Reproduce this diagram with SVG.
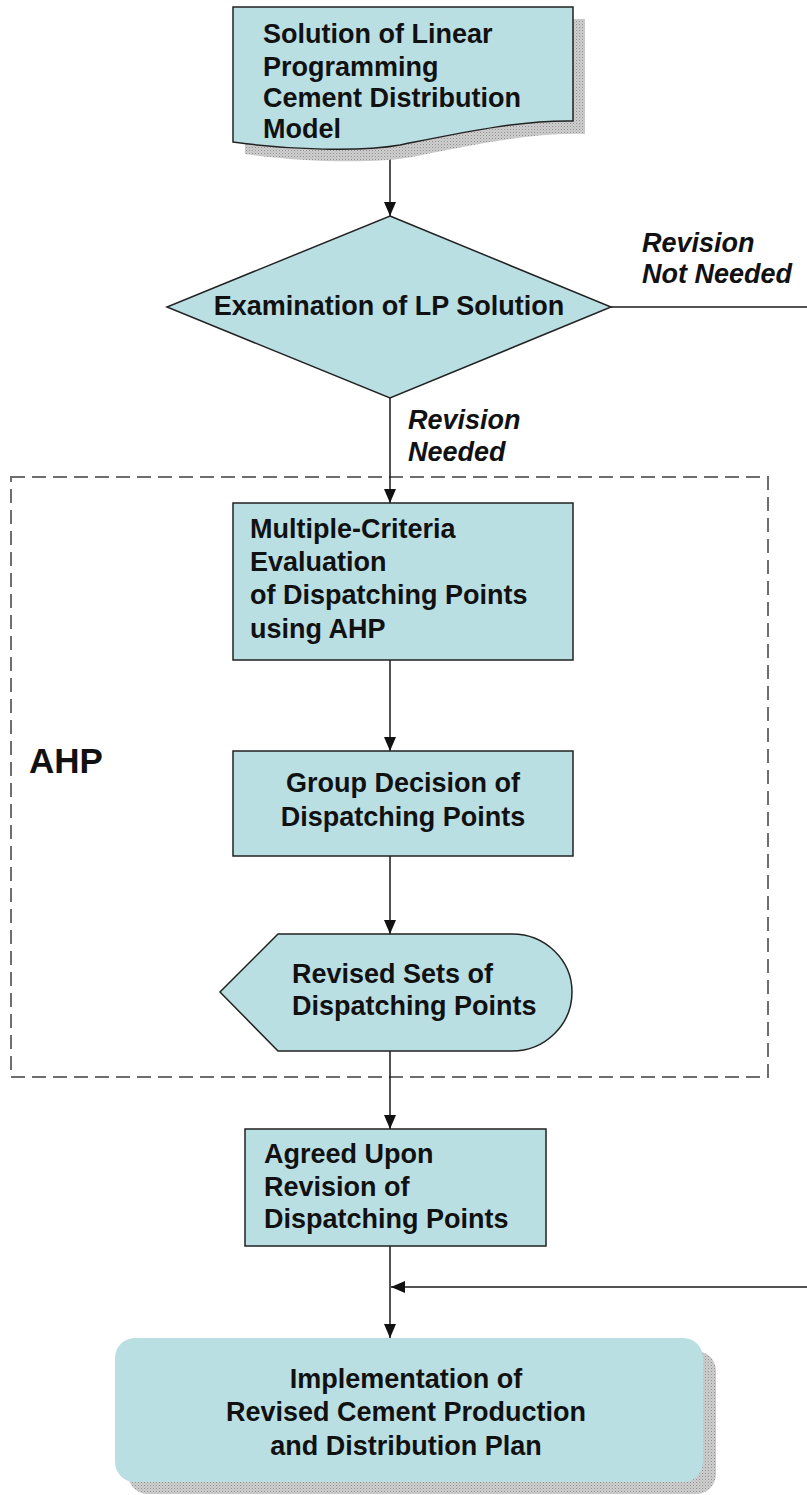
<svg xmlns="http://www.w3.org/2000/svg" width="807" height="1495" viewBox="0 0 807 1495">
<style>
.shape{fill:#badfe3;stroke:#222;stroke-width:1.5}
.noborder{fill:#badfe3;stroke:none}
.shadow{fill:url(#dots);stroke:none}
.t{font-family:"Liberation Sans",Arial,sans-serif;font-weight:bold;font-size:27px;fill:#111}
.lbl{font-family:"Liberation Sans",Arial,sans-serif;font-weight:bold;font-style:italic;font-size:27px;fill:#111}
.conn{fill:none;stroke:#1a1a1a;stroke-width:1.5}
.dash{fill:none;stroke:#6e6e6e;stroke-width:2;stroke-dasharray:14 7}
</style>
<defs>
<pattern id="dots" width="3" height="3" patternUnits="userSpaceOnUse">
<rect width="3" height="3" fill="#cfcfcf"/>
<rect width="1" height="1" fill="#8e8e8e"/>
<rect x="1.5" y="1.5" width="1" height="1" fill="#a8a8a8"/>
</pattern>
<marker id="arr" markerUnits="userSpaceOnUse" markerWidth="14" markerHeight="12" refX="14" refY="6" orient="auto">
<path d="M0,0 L14,6 L0,12 z" fill="#111"/>
</marker>
</defs>

<g id="ahp-group">
<rect class="dash" x="11" y="477" width="757" height="600"/>
<text class="t" x="29" y="773" style="font-size:35px">AHP</text>
</g>

<g id="connectors">
<line class="conn" x1="390" y1="148" x2="390" y2="216" marker-end="url(#arr)"/>
<line class="conn" x1="390" y1="398" x2="390" y2="503" marker-end="url(#arr)"/>
<line class="conn" x1="611" y1="307" x2="807" y2="307"/>
<line class="conn" x1="390" y1="660" x2="390" y2="751" marker-end="url(#arr)"/>
<line class="conn" x1="390" y1="856" x2="390" y2="934" marker-end="url(#arr)"/>
<line class="conn" x1="390" y1="1051" x2="390" y2="1129" marker-end="url(#arr)"/>
<line class="conn" x1="390" y1="1246" x2="390" y2="1338" marker-end="url(#arr)"/>
<line class="conn" x1="807" y1="1287" x2="391" y2="1287" marker-end="url(#arr)"/>
<text class="lbl" x="642" y="252">Revision</text>
<text class="lbl" x="642" y="283">Not Needed</text>
<text class="lbl" x="408" y="429">Revision</text>
<text class="lbl" x="408" y="461">Needed</text>
</g>

<g id="node-lp-solution">
<path class="shadow" d="M245,19 H585 V134 C532,132 472,145 412,157 C372,164 302,162 245,154 Z"/>
<path class="shape" d="M233,7 H573 V121 C520,120 460,133 400,145 C360,152 290,150 233,142 Z"/>
<text class="t" x="263" y="43">Solution of Linear</text>
<text class="t" x="263" y="76">Programming</text>
<text class="t" x="263" y="107">Cement Distribution</text>
<text class="t" x="263" y="138">Model</text>
</g>

<g id="node-examination">
<path class="shape" d="M390,216 L611,307 L390,398 L167,307 Z"/>
<text class="t" x="389" y="315" text-anchor="middle">Examination of LP Solution</text>
</g>

<g id="node-mce">
<rect class="shape" x="233" y="503" width="340" height="157"/>
<text class="t" x="250" y="538">Multiple-Criteria</text>
<text class="t" x="250" y="571">Evaluation</text>
<text class="t" x="250" y="604">of Dispatching Points</text>
<text class="t" x="250" y="638">using AHP</text>
</g>

<g id="node-group-decision">
<rect class="shape" x="233" y="751" width="340" height="105"/>
<text class="t" x="403" y="792" text-anchor="middle">Group Decision of</text>
<text class="t" x="403" y="826" text-anchor="middle">Dispatching Points</text>
</g>

<g id="node-revised-sets">
<path class="shape" d="M278,934 H512 A60 58 0 0 1 572,992 A60 59 0 0 1 512,1051 H278 L220,992 Z"/>
<text class="t" x="292" y="983">Revised Sets of</text>
<text class="t" x="292" y="1015">Dispatching Points</text>
</g>

<g id="node-agreed">
<rect class="shape" x="245" y="1129" width="301" height="117"/>
<text class="t" x="264" y="1163">Agreed Upon</text>
<text class="t" x="264" y="1196">Revision of</text>
<text class="t" x="264" y="1228">Dispatching Points</text>
</g>

<g id="node-implementation">
<rect class="shadow" x="128" y="1351" width="588" height="143" rx="20" ry="20"/>
<rect class="noborder" x="115" y="1338" width="588" height="144" rx="20" ry="20"/>
<text class="t" x="406" y="1388" text-anchor="middle">Implementation of</text>
<text class="t" x="406" y="1421" text-anchor="middle">Revised Cement Production</text>
<text class="t" x="406" y="1455" text-anchor="middle">and Distribution Plan</text>
</g>
</svg>
